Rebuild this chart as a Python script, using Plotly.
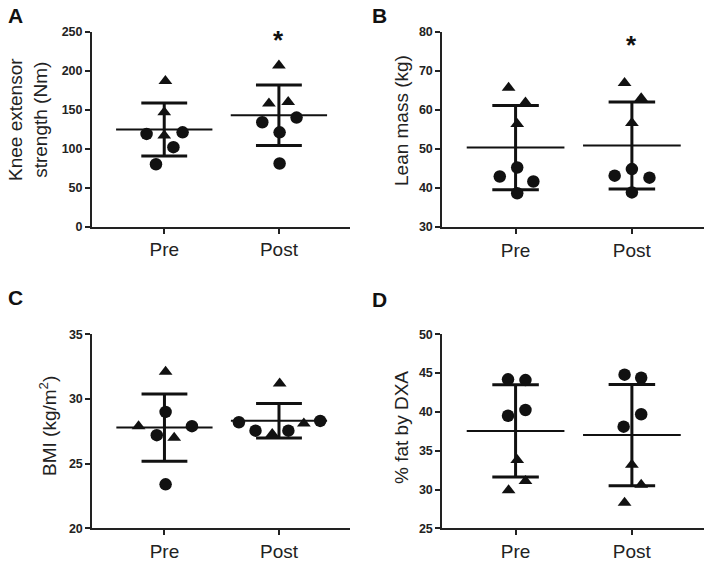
import numpy as np
import plotly.graph_objects as go

W, H = 711, 563
FONT = "Arial, Liberation Sans, Helvetica, sans-serif"

categories = ["Pre", "Post"]

# ---- data (T = triangle, C = circle) ----
knee_pre = [187, 147, 117, 119, 121, 102, 80]
knee_pre_shape = ["T", "T", "T", "C", "C", "C", "C"]
knee_post = [207, 158, 160, 134, 140, 121, 81]
knee_post_shape = ["T", "T", "T", "C", "C", "C", "C"]

lean_pre = [65.7, 61.9, 56.4, 45.2, 42.9, 41.6, 38.6]
lean_pre_shape = ["T", "T", "T", "C", "C", "C", "C"]
lean_post = [66.9, 63.0, 56.6, 44.8, 43.1, 42.6, 38.8]
lean_post_shape = ["T", "T", "T", "C", "C", "C", "C"]

bmi_pre = [32.1, 29.0, 27.9, 27.9, 27.2, 27.0, 23.4]
bmi_pre_shape = ["T", "C", "C", "T", "C", "T", "C"]
bmi_post = [31.2, 28.2, 28.3, 28.1, 27.55, 27.55, 27.3]
bmi_post_shape = ["T", "C", "C", "T", "C", "C", "T"]

fat_pre = [44.2, 44.1, 40.25, 39.5, 33.8, 31.1, 29.9]
fat_pre_shape = ["C", "C", "C", "C", "T", "T", "T"]
fat_post = [44.8, 44.4, 39.7, 38.1, 33.2, 30.6, 28.3]
fat_post_shape = ["C", "C", "C", "C", "T", "T", "T"]

# horizontal scatter offsets (layout only)
jit = {
    "A": ([0.01, 0, 0, -0.154, 0.16, 0.08, -0.072],
          [0, -0.087, 0.081, -0.145, 0.154, 0.006, 0.006]),
    "B": ([-0.06, 0.085, 0.014, 0.014, -0.136, 0.153, 0.014],
          [-0.063, 0.08, 0, 0, -0.148, 0.151, 0]),
    "C": ([0.01, 0.01, 0.24, -0.226, -0.067, 0.085, 0.01],
          [0.006, -0.35, 0.36, 0.217, -0.205, 0.082, -0.059]),
    "D": ([-0.065, 0.085, 0.085, -0.065, 0.014, 0.085, -0.06],
          [-0.063, 0.08, 0.08, -0.071, 0, 0.08, -0.063]),
}

panels = [
    dict(key="A", ax="", pre=knee_pre, pres=knee_pre_shape, post=knee_post, posts=knee_post_shape,
         yr=[0, 250], dt=50, title="Knee extensor<br>strength (Nm)", star=240,
         px=(92, 350), py=(32, 226.5), tx=28, ty=120),
    dict(key="B", ax="2", pre=lean_pre, pres=lean_pre_shape, post=lean_post, posts=lean_post_shape,
         yr=[30, 80], dt=10, title="Lean mass (kg)", star=76.7,
         px=(442.3, 704), py=(32, 226.7), tx=401, ty=121),
    dict(key="C", ax="3", pre=bmi_pre, pres=bmi_pre_shape, post=bmi_post, posts=bmi_post_shape,
         yr=[20, 35], dt=5, title="BMI (kg/m<sup>2</sup>)", star=None,
         px=(92.3, 350), py=(334.3, 528.3), tx=48, ty=426),
    dict(key="D", ax="4", pre=fat_pre, pres=fat_pre_shape, post=fat_post, posts=fat_post_shape,
         yr=[25, 50], dt=5, title="% fat by DXA", star=None,
         px=(442.3, 704), py=(334.3, 528.3), tx=401, ty=428),
]

letters = [("A", 15, 15), ("B", 380, 16), ("C", 15, 297), ("D", 380, 299)]

fig = go.Figure()
layout = {}
annotations = []

XR = [-0.63, 1.62]
for p in panels:
    xa = "x" + p["ax"]
    ya = "y" + p["ax"]
    for ci, (vals, shp) in enumerate([(p["pre"], p["pres"]), (p["post"], p["posts"])]):
        v = np.array(vals, dtype=float)
        m = v.mean()
        sd = v.std(ddof=1)
        fig.add_trace(go.Scatter(x=[ci - 0.42, ci + 0.42], y=[m, m], mode="lines",
                                 line=dict(color="#111", width=2), xaxis=xa, yaxis=ya,
                                 showlegend=False, hoverinfo="skip"))
        fig.add_trace(go.Scatter(
            x=[ci, ci, None, ci - 0.2, ci + 0.2, None, ci - 0.2, ci + 0.2],
            y=[m - sd, m + sd, None, m + sd, m + sd, None, m - sd, m - sd],
            mode="lines", line=dict(color="#111", width=3), xaxis=xa, yaxis=ya,
            showlegend=False, hoverinfo="skip"))
        offs = jit[p["key"]][ci]
        xs = [ci + o for o in offs]
        for s, sym, size in [("C", "circle", 12.5), ("T", "triangle-up", 12)]:
            idx = [i for i, k in enumerate(shp) if k == s]
            fig.add_trace(go.Scatter(
                x=[xs[i] for i in idx], y=[vals[i] for i in idx], mode="markers",
                marker=dict(symbol=sym, size=size, color="#111", line=dict(width=0)),
                xaxis=xa, yaxis=ya, showlegend=False))
    x0, x1 = p["px"]
    y0, y1 = p["py"]
    n = p["ax"] if p["ax"] else ""
    layout["xaxis" + n] = dict(
        domain=[x0 / W, x1 / W], range=XR, anchor="y" + n,
        tickvals=[0, 1], ticktext=categories, ticks="outside", ticklen=5, tickwidth=2,
        tickcolor="#222", showline=True, linewidth=2, linecolor="#222",
        showgrid=False, zeroline=False, fixedrange=True, automargin=False,
        tickfont=dict(family=FONT, size=19, color="#222"))
    layout["yaxis" + n] = dict(
        domain=[1 - y1 / H, 1 - y0 / H], range=p["yr"], anchor="x" + n,
        tickmode="linear", tick0=p["yr"][0], dtick=p["dt"], ticks="outside", ticklen=5,
        tickwidth=2, tickcolor="#222", showline=True, linewidth=2, linecolor="#222",
        showgrid=False, zeroline=False, fixedrange=True, automargin=False,
        tickfont=dict(family=FONT, size=12.5, color="#222", weight="bold"))
    annotations.append(dict(text=p["title"], x=p["tx"] / W, y=1 - p["ty"] / H,
                            xref="paper", yref="paper", textangle=-90, showarrow=False,
                            xanchor="center", yanchor="middle",
                            font=dict(family=FONT, size=19, color="#222")))
    if p["star"] is not None:
        annotations.append(dict(text="<b>*</b>", x=1, y=p["star"], xref="x" + n,
                                yref="y" + n, showarrow=False, xanchor="center",
                                yanchor="middle",
                                font=dict(family=FONT, size=26, color="#111")))

for t, x, y in letters:
    annotations.append(dict(text="<b>" + t + "</b>", x=x / W, y=1 - y / H, xref="paper",
                            yref="paper", showarrow=False, xanchor="center",
                            yanchor="middle", font=dict(family=FONT, size=21, color="#111")))

fig.update_layout(width=W, height=H, margin=dict(l=0, r=0, t=0, b=0, autoexpand=False),
                  paper_bgcolor="white", plot_bgcolor="white",
                  annotations=annotations, **layout)
fig.write_html("out.html", config={"displayModeBar": False},
               post_script="document.body.style.margin='0';document.body.style.overflow='hidden';")
